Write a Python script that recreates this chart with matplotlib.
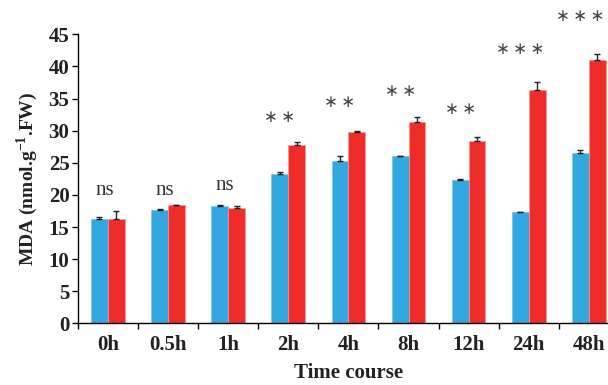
import numpy as np
import matplotlib
matplotlib.use("Agg")
import matplotlib.pyplot as plt

categories = ["0h", "0.5h", "1h", "2h", "4h", "8h", "12h", "24h", "48h"]
control = [16.3, 17.6, 18.3, 23.2, 25.2, 26.0, 22.3, 17.3, 26.5]
control_err = [0.3, 0.2, 0.1, 0.4, 0.9, 0.1, 0.2, 0.1, 0.5]
treated = [16.3, 18.4, 18.0, 27.7, 29.8, 31.4, 28.4, 36.3, 41.0]
treated_err = [1.2, 0.1, 0.2, 0.5, 0.1, 0.7, 0.6, 1.2, 1.0]
signif = ["ns", "ns", "ns", "∗∗", "∗∗", "∗∗", "∗∗", "∗∗∗", "∗∗∗"]
signif_y = [20.7, 20.7, 21.5, 32.1, 34.5, 36.1, 33.3, 42.7, 47.9]

plt.rcParams['font.family'] = ['Liberation Serif', 'DejaVu Serif']
plt.rcParams['mathtext.fontset'] = 'custom'
plt.rcParams['mathtext.rm'] = 'Liberation Serif'
plt.rcParams['mathtext.bf'] = 'Liberation Serif:bold'

fig = plt.figure(figsize=(6.08, 3.85), dpi=100)
ax = fig.add_axes([0.128, 0.160, 0.890, 0.751])

x = np.arange(len(categories))
w = 0.28
ax.bar(x - w/2, control, w, color='#33a7df', edgecolor='#7cc6ea', linewidth=0.5,
       yerr=[np.zeros(len(x)), control_err], capsize=2.5,
       error_kw=dict(ecolor='#222222', elinewidth=1.0, capthick=1.0))
ax.bar(x + w/2, treated, w, color='#ee2d2b', edgecolor='#f49b98', linewidth=0.5,
       yerr=[np.zeros(len(x)), treated_err], capsize=2.5,
       error_kw=dict(ecolor='#222222', elinewidth=1.0, capthick=1.0))

for i, (s, y) in enumerate(zip(signif, signif_y)):
    if s == "ns":
        ax.text(i - 0.05, y, s, ha='center', va='center', fontsize=15,
                color='#333333', clip_on=False)
    else:
        ax.text(i - w/2, y, "\u2009".join(s), ha='center', va='center', fontsize=12,
                color='#444444', family=['DejaVu Sans'], clip_on=False)

ax.set_xlim(-0.5, 8.5)
ax.set_ylim(0, 45)
ax.set_yticks(range(0, 46, 5))
ax.set_xticks(x)
ax.set_xticklabels(categories)
ax.set_xticks(np.arange(-0.5, 9, 1), minor=True)
ax.tick_params(axis='x', which='major', length=0, pad=8)
ax.tick_params(axis='x', which='minor', length=4, width=1)
ax.tick_params(axis='y', length=4, width=1, pad=2)
for lab in ax.get_xticklabels() + ax.get_yticklabels():
    lab.set_fontsize(15)
    lab.set_fontweight('bold')
    lab.set_color('#222222')

ax.spines['top'].set_visible(False)
ax.spines['right'].set_visible(False)
ax.spines['left'].set_linewidth(1.0)
ax.spines['bottom'].set_linewidth(1.0)

ax.set_ylabel("MDA (nmol.g$^{\\mathbf{-1}}$.FW)", fontsize=14, fontweight='bold',
              color='#222222', labelpad=6)
ax.set_xlabel("Time course", fontsize=15, fontweight='bold', color='#222222',
              labelpad=6)

fig.savefig("out.png", dpi=100)
